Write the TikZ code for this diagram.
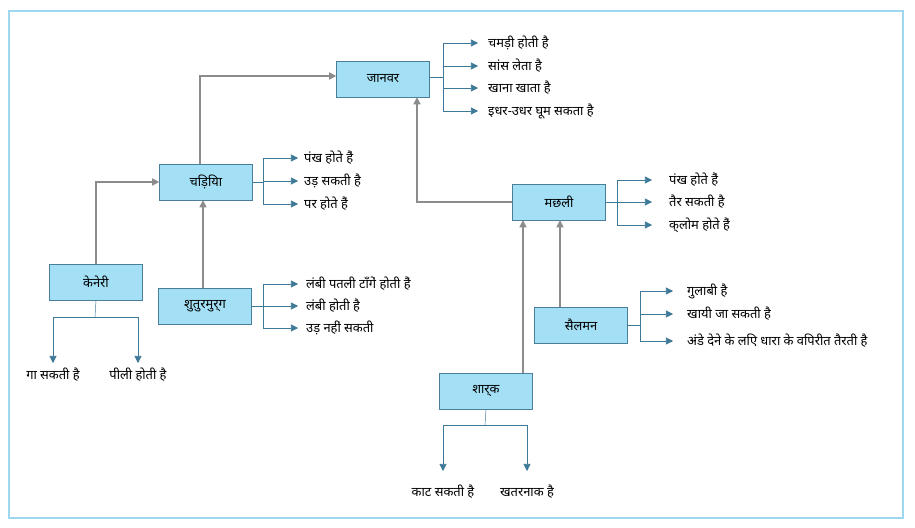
\documentclass[tikz,border=0pt]{standalone}
\usepackage{fontspec}
\setmainfont{Noto Sans}
\usetikzlibrary{arrows.meta}
\definecolor{boxfill}{HTML}{A3DFF5}
\definecolor{boxline}{HTML}{4A7E9A}
\definecolor{frame}{HTML}{9ED8F0}
\definecolor{link}{HTML}{8C8C8C}
\definecolor{prop}{HTML}{3E7A98}
\tikzset{
  animal/.style={draw=boxline,fill=boxfill,minimum width=2.79cm,minimum height=1.08cm,font=\fontsize{11}{13}\selectfont},
  isa/.style={draw=link,line width=1.2pt,-{Triangle[length=6pt,width=6pt]}},
  has/.style={draw=prop,line width=0.5pt,-{Triangle[length=6pt,width=6pt]}},
  fact/.style={anchor=west,inner sep=0pt,font=\fontsize{11}{13}\selectfont},
  factb/.style={inner sep=0pt,font=\fontsize{11}{13}\selectfont}
}
\begin{document}
\begin{tikzpicture}[x=0.03cm,y=-0.03cm]
    \useasboundingbox (0,0) rectangle (915,528);
    \draw[frame,line width=1pt] (9,11) rectangle (903,518);

    \node[animal] (janvar) at (383,79) {जानवर};
    \node[animal] (chidiya) at (206,182) {चिड़िया};
    \node[animal] (keneri) at (96,282) {केनेरी};
    \node[animal] (shutur) at (205,306) {शुतुरमुर्ग};
    \node[animal] (machhli) at (559,202) {मछली};
    \node[animal] (salman) at (581,325) {सैलमन};
    \node[animal] (shark) at (486,391) {शार्क};

    % is-a links
    \draw[isa] (chidiya.north -| 200,0) |- (janvar.west |- 0,76);
    \draw[isa] (keneri.north) |- (chidiya.west);
    \draw[isa] (shutur.north -| 203,0) -- (chidiya.south -| 203,0);
    \draw[isa] (machhli.west) -| (janvar.south -| 417,0);
    \draw[isa] (shark.north -| 523,0) -- (machhli.south -| 523,0);
    \draw[isa] (salman.north -| 560,0) -- (machhli.south -| 560,0);

    % properties to the right
    \draw[prop] (janvar.east |- 0,77) -- (443,77);
    \draw[prop] (443,43) -- (443,111);
    \foreach \y/\t [count=\i] in {43/चमड़ी होती है,66/सांस लेता है,88/खाना खाता है,111/इधर-उधर घूम सकता है}
        {\coordinate (ja\i) at (443,\y); \node[fact] (jt\i) at (488,\y) {\t}; \draw[has] (ja\i) -- (478,\y);}

    \draw[prop] (chidiya.east) -- (263,182);
    \draw[prop] (263,158) -- (263,204);
    \foreach \y/\t [count=\i] in {158/पंख होते हैं,181/उड़ सकती है,204/पर होते हैं}
        {\coordinate (ca\i) at (263,\y); \node[fact] (ct\i) at (304,\y) {\t}; \draw[has] (ca\i) -- (298,\y);}

    \draw[prop] (shutur.east) -- (263,306);
    \draw[prop] (263,284) -- (263,328);
    \foreach \y/\t [count=\i] in {284/लंबी पतली टाँगें होती हैं,306/लंबी होती है,328/उड़ नहीं सकती}
        {\coordinate (sa\i) at (263,\y); \node[fact] (st\i) at (306,\y) {\t}; \draw[has] (sa\i) -- (298,\y);}

    \draw[prop] (machhli.east) -- (617,202);
    \draw[prop] (617,180) -- (617,225);
    \foreach \y/\t [count=\i] in {180/पंख होते हैं,202/तैर सकती है,225/क्लोम होते हैं}
        {\coordinate (ma\i) at (617,\y); \node[fact] (mt\i) at (669,\y) {\t}; \draw[has] (ma\i) -- (652,\y);}

    \draw[prop] (salman.east) -- (640,325);
    \draw[prop] (640,291) -- (640,341);
    \foreach \y/\t [count=\i] in {291/गुलाबी है,314/खायी जा सकती है,341/अंडे देने के लिए धारा के विपरीत तैरती है}
        {\coordinate (la\i) at (640,\y); \node[fact] (lt\i) at (687,\y) {\t}; \draw[has] (la\i) -- (673,\y);}

    % properties below
    \draw[prop] (keneri.south) -- (95,317);
    \draw[prop] (53,317) -- (138,317);
    \foreach \x/\t [count=\i] in {53/गा सकती है,138/पीली होती है}
        {\coordinate (ka\i) at (\x,317); \node[factb] (kt\i) at (\x,375) {\t}; \draw[has] (ka\i) -- (\x,363);}

    \draw[prop] (shark.south) -- (485,425);
    \draw[prop] (443,425) -- (527,425);
    \foreach \x/\t [count=\i] in {443/काट सकती है,527/खतरनाक है}
        {\coordinate (ha\i) at (\x,425); \node[factb] (ht\i) at (\x,492) {\t}; \draw[has] (ha\i) -- (\x,471);}
\end{tikzpicture}
\end{document}
